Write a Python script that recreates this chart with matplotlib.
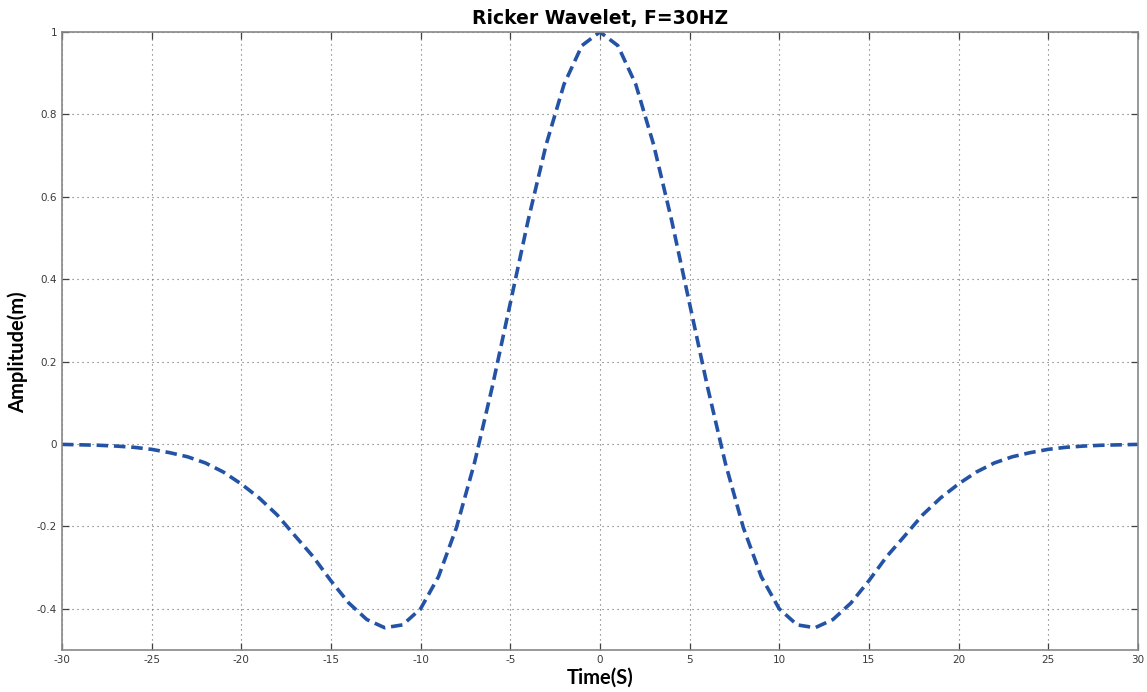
import matplotlib.pyplot as plt
import numpy as np

time = np.arange(-30, 31)
half = [1.0, 0.967, 0.873, 0.726, 0.543, 0.341, 0.139, -0.047, -0.203, -0.322,
        -0.400, -0.439, -0.446, -0.426, -0.386, -0.332, -0.273, -0.223, -0.172,
        -0.131, -0.097, -0.068, -0.046, -0.031, -0.021, -0.013, -0.008, -0.005,
        -0.003, -0.002, -0.001]
amp = half[:0:-1] + half

xticks = list(range(-30, 31, 5))
yticks = [-0.4, -0.2, 0, 0.2, 0.4, 0.6, 0.8, 1]
ylabels = ['-0.4', '-0.2', '0', '0.2', '0.4', '0.6', '0.8', '1']

fig = plt.figure(figsize=(11.47, 6.92), dpi=100)
ax = fig.add_axes([0.054, 0.0607, 0.938, 0.8931])
line, = ax.plot(time, amp, color='#2453a6', lw=2.6, ls='--')
line.set_dashes((3.2, 1.6))

ax.set_xlim(-30, 30)
ax.set_ylim(-0.5, 1)
ax.set_xticks(xticks)
ax.set_xticklabels([str(t) for t in xticks])
ax.set_yticks(yticks)
ax.set_yticklabels(ylabels)
ax.tick_params(direction='in', length=5, width=0.9, colors='#404040', labelsize=7.5,
               top=True, right=True, labelcolor='#3a3a3a')
ax.grid(True, ls=(0, (1, 3.5)), color='#666666', lw=0.8)
for s in ax.spines.values():
    s.set_color('#888888')
    s.set_linewidth(1.2)

ax.set_title('Ricker Wavelet, F=30HZ', fontsize=13.5, fontweight='bold',
             family='DejaVu Sans', pad=6)
ax.set_xlabel('Time(S)', fontsize=14.5, fontweight='bold', family='Lato')
ax.set_ylabel('Amplitude(m)', fontsize=14.5, fontweight='bold', family='Lato')
ax.xaxis.set_label_coords(0.5, -0.029)
ax.yaxis.set_label_coords(-0.031, 0.482)

fig.savefig('out.png', dpi=100)
